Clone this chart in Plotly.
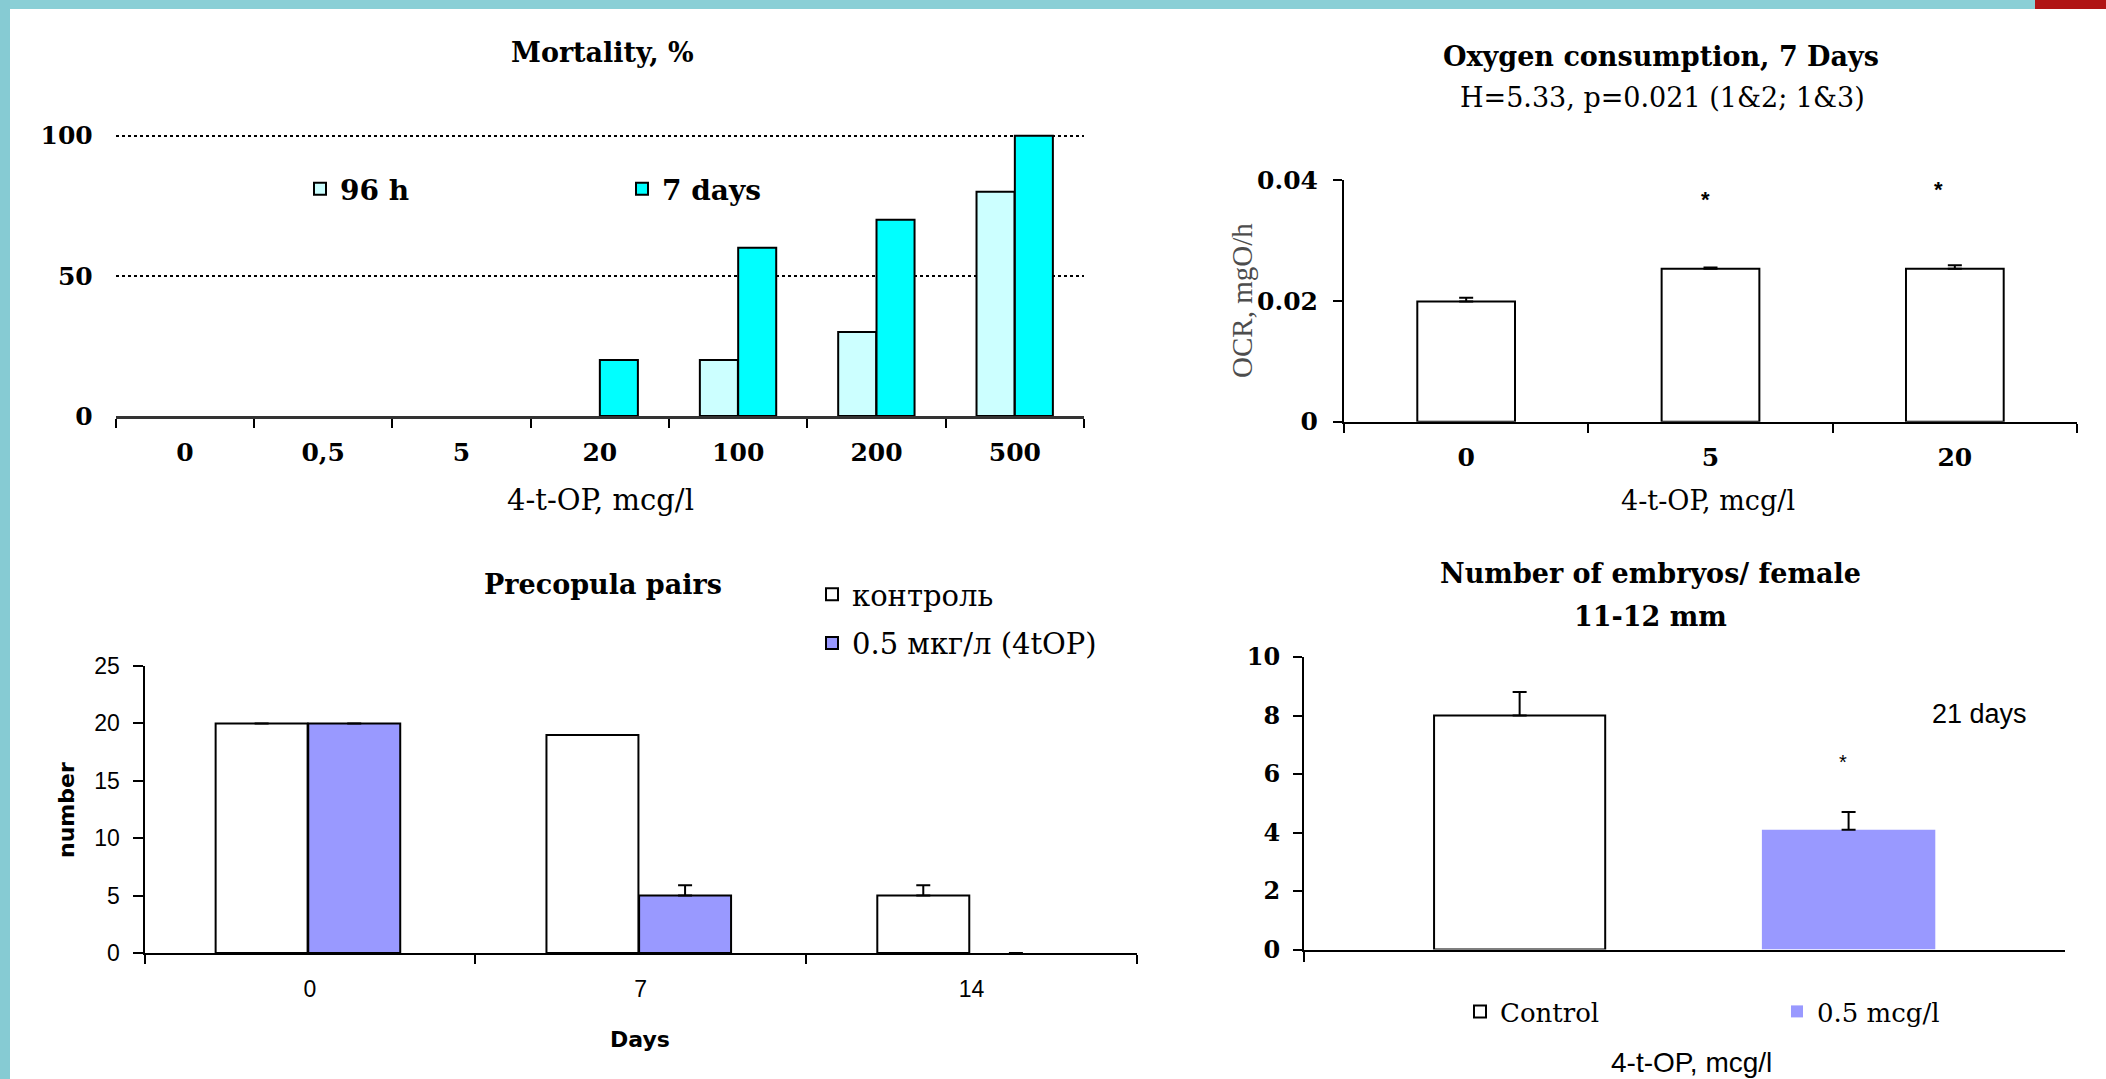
import plotly.graph_objects as go

W, H = 2106, 1079

# ---------------- data ----------------
mort_cats = ["0", "0,5", "5", "20", "100", "200", "500"]
mort_96h = [0, 0, 0, 0, 20, 30, 80]
mort_7d = [0, 0, 0, 20, 60, 70, 100]
mort_yticks = [0, 50, 100]

oxy_cats = ["0", "5", "20"]
oxy_vals = [0.0199, 0.0253, 0.0253]
oxy_err = [0.0006, 0.0002, 0.0006]
oxy_sig = ["", "*", "*"]
oxy_yticks = [0, 0.02, 0.04]
oxy_yticklabels = ["0", "0.02", "0.04"]

pre_cats = ["0", "7", "14"]
pre_ctrl = [20, 19, 5]
pre_ctrl_err = [None, None, 0.9]
pre_top = [20, 5, 0]
pre_top_err = [None, 0.9, None]
pre_yticks = [0, 5, 10, 15, 20, 25]

emb_cat = ["4-t-OP"]
emb_ctrl = [8.0]
emb_ctrl_err = [0.8]
emb_top = [4.1]
emb_top_err = [0.6]
emb_sig = ["", "*"]
emb_yticks = [0, 2, 4, 6, 8, 10]

# ---------------- helpers ----------------
def px(x):
    return x / W

def py(y):
    return 1 - y / H

SERIF = "DejaVu Serif"
TIMES = "Liberation Serif"
SANS = "Liberation Sans"
VERD = "DejaVu Sans"
BLACK = "#000000"
TITLE = 27

C_96H = "#CCFFFF"
C_7D = "#00FFFF"
C_TOP = "#9999FF"

def f(family, size, bold=False, color=BLACK):
    d = dict(family=family, size=size, color=color)
    if bold:
        d["weight"] = "bold"
    return d

def lw(vals, w=2):
    # no outline on zero-height bars (they sit on the axis line)
    return [w if v else 0 for v in vals]

def zeros(vals):
    return [0 if v is not None else None for v in vals]

fig = go.Figure()

# ---------------- Mortality ----------------
fig.add_trace(go.Bar(x=mort_cats, y=mort_96h, name="96 h", xaxis="x", yaxis="y",
                     marker=dict(color=C_96H, line=dict(color=BLACK, width=lw(mort_96h))),
                     width=0.275, offset=-0.277, showlegend=False))
fig.add_trace(go.Bar(x=mort_cats, y=mort_7d, name="7 days", xaxis="x", yaxis="y",
                     marker=dict(color=C_7D, line=dict(color=BLACK, width=lw(mort_7d))),
                     width=0.275, offset=0.0, showlegend=False))
# legend entries (same styling, no marks)
for nm, col in [("96 h", C_96H), ("7 days", C_7D)]:
    fig.add_trace(go.Bar(x=[None], y=[None], name=nm, xaxis="x", yaxis="y",
                         marker=dict(color=col, line=dict(color=BLACK, width=2)),
                         legend="legend", hoverinfo="skip"))

# ---------------- Oxygen ----------------
fig.add_trace(go.Bar(x=oxy_cats, y=oxy_vals, name="OCR", xaxis="x2", yaxis="y2",
                     marker=dict(color="#FFFFFF", line=dict(color=BLACK, width=2)),
                     width=0.4, showlegend=False,
                     error_y=dict(type="data", array=oxy_err, arrayminus=zeros(oxy_err),
                                  symmetric=False, color=BLACK, thickness=2, width=7)))

# ---------------- Precopula ----------------
fig.add_trace(go.Bar(x=pre_cats, y=pre_ctrl, name="контроль", xaxis="x3", yaxis="y3",
                     marker=dict(color="#FFFFFF", line=dict(color=BLACK, width=lw(pre_ctrl))),
                     width=0.278, offset=-0.285, legend="legend2", legendgroup="a",
                     error_y=dict(type="data", array=pre_ctrl_err, arrayminus=zeros(pre_ctrl_err),
                                  symmetric=False, color=BLACK, thickness=2, width=7)))
fig.add_trace(go.Bar(x=pre_cats, y=pre_top, name="0.5 мкг/л (4tOP)", xaxis="x3", yaxis="y3",
                     marker=dict(color=C_TOP, line=dict(color=BLACK, width=lw(pre_top))),
                     width=0.278, offset=-0.005, legend="legend2", legendgroup="b",
                     error_y=dict(type="data", array=pre_top_err, arrayminus=zeros(pre_top_err),
                                  symmetric=False, color=BLACK, thickness=2, width=7)))

# ---------------- Embryos ----------------
fig.add_trace(go.Bar(x=emb_cat, y=emb_ctrl, name="Control", xaxis="x4", yaxis="y4",
                     marker=dict(color="#FFFFFF", line=dict(color=BLACK, width=2)),
                     width=0.225, offset=-0.329, legend="legend3",
                     error_y=dict(type="data", array=emb_ctrl_err, arrayminus=[0],
                                  symmetric=False, color=BLACK, thickness=2, width=7)))
fig.add_trace(go.Bar(x=emb_cat, y=emb_top, name="0.5 mcg/l", xaxis="x4", yaxis="y4",
                     marker=dict(color=C_TOP, line=dict(width=0)),
                     width=0.228, offset=0.102, legend="legend3",
                     error_y=dict(type="data", array=emb_top_err, arrayminus=[0],
                                  symmetric=False, color=BLACK, thickness=2, width=7)))

axis_common = dict(showgrid=False, zeroline=False, linecolor=BLACK, linewidth=2,
                   tickcolor=BLACK, tickwidth=2, fixedrange=True, automargin=False,
                   layer="above traces")

mort_top = 100.6
mort_ppu = (416 - 135.7) / 100.0

layout = dict(
    width=W, height=H, margin=dict(l=0, r=0, t=0, b=0, autoexpand=False),
    paper_bgcolor="white", plot_bgcolor="rgba(0,0,0,0)",
    barmode="overlay", showlegend=True, hovermode=False,
    # Mortality axes
    xaxis=dict(axis_common, domain=[px(115.7), px(1084)], anchor="y", type="category",
               range=[-0.5, 6.5], showline=True, linecolor="#333333", linewidth=2.5,
               ticks="outside", tickson="boundaries", ticklen=9,
               tickfont=f(SERIF, 25, True), ticklabelstandoff=12),
    yaxis=dict(axis_common, domain=[py(416), py(416 - mort_top * mort_ppu)], anchor="x",
               range=[0, mort_top],
               showline=False, showgrid=True, gridcolor=BLACK, gridwidth=1.5,
               griddash="3px,3px", tickvals=mort_yticks, ticks="",
               tickfont=f(SERIF, 25, True), ticklabelstandoff=22),
    # Oxygen axes
    xaxis2=dict(axis_common, domain=[px(1344), px(2077)], anchor="y2", type="category",
                range=[-0.5, 2.5], showline=True, ticks="outside", tickson="boundaries",
                ticklen=9, tickfont=f(SERIF, 25, True), ticklabelstandoff=12),
    yaxis2=dict(axis_common, domain=[py(421.7), py(180)], anchor="x2", range=[0, 0.04],
                showline=True, ticks="outside", ticklen=9, tickvals=oxy_yticks,
                ticktext=oxy_yticklabels, tickfont=f(SERIF, 25, True), ticklabelstandoff=10),
    # Precopula axes
    xaxis3=dict(axis_common, domain=[px(144.5), px(1137)], anchor="y3", type="category",
                range=[-0.5, 2.5], showline=True, ticks="outside", tickson="boundaries",
                ticklen=9, tickfont=f(SANS, 23), ticklabelstandoff=14),
    yaxis3=dict(axis_common, domain=[py(953), py(666)], anchor="x3", range=[0, 25],
                showline=True, ticks="outside", ticklen=10, tickvals=pre_yticks,
                tickfont=f(SANS, 23), ticklabelstandoff=8),
    # Embryos axes
    xaxis4=dict(axis_common, domain=[px(1304), px(2064.6)], anchor="y4", type="category",
                range=[-0.5, 0.5], showline=True, ticks="outside", tickson="boundaries",
                ticklen=10, showticklabels=False),
    yaxis4=dict(axis_common, domain=[py(949.6), py(657)], anchor="x4", range=[0, 10],
                showline=True, ticks="outside", ticklen=9, tickvals=emb_yticks,
                tickfont=f(SERIF, 24, True), ticklabelstandoff=8),
    legend=dict(orientation="h", x=px(300), y=py(164), xanchor="left", yanchor="top",
                entrywidth=277, entrywidthmode="pixels", bgcolor="rgba(0,0,0,0)",
                font=f(SERIF, 28, True), itemclick=False, itemdoubleclick=False),
    legend2=dict(orientation="v", x=px(812), y=py(569), xanchor="left", yanchor="top",
                 bgcolor="rgba(0,0,0,0)", font=f(SERIF, 29), traceorder="grouped",
                 tracegroupgap=8, itemclick=False, itemdoubleclick=False),
    legend3=dict(orientation="h", x=px(1460), y=py(988), xanchor="left", yanchor="top",
                 entrywidth=272, entrywidthmode="pixels", bgcolor="rgba(0,0,0,0)",
                 font=f(SERIF, 26), itemclick=False, itemdoubleclick=False),
)
fig.update_layout(**layout)

# ---------------- frame decoration ----------------
shapes = [
    dict(type="rect", xref="paper", yref="paper", x0=0, x1=px(2035), y0=py(9), y1=1,
         fillcolor="#8ACFD6", line=dict(width=0), layer="below"),
    dict(type="rect", xref="paper", yref="paper", x0=px(2035), x1=1, y0=py(9), y1=1,
         fillcolor="#B01515", line=dict(width=0), layer="below"),
    dict(type="rect", xref="paper", yref="paper", x0=0, x1=px(10), y0=0, y1=1,
         fillcolor="#86CBD3", line=dict(width=0), layer="below"),
]
fig.update_layout(shapes=shapes)

# ---------------- texts ----------------
def ann(text, x, y, font, angle=0, xref="paper", yref="paper", xshift=0):
    return dict(text=text, x=x, y=y, xref=xref, yref=yref, showarrow=False,
                font=font, textangle=angle, xanchor="center", yanchor="middle",
                xshift=xshift)

anns = [
    ann("Mortality, %", px(602), py(53), f(SERIF, TITLE, True)),
    ann("4-t-OP, mcg/l", px(600), py(500), f(SERIF, 29)),
    ann("Oxygen consumption, 7 Days", px(1661), py(57), f(SERIF, TITLE, True)),
    ann("H=5.33, p=0.021 (1&2; 1&3)", px(1662), py(98), f(SERIF, 27)),
    ann("OCR, mgO/h", px(1242), py(301), f(TIMES, 29, color="#4d4d4d"), angle=-90),
    ann("4-t-OP, mcg/l", px(1708), py(500), f(SERIF, 27)),
    ann("Precopula pairs", px(603), py(584), f(SERIF, TITLE, True)),
    ann("number", px(66), py(810), f(VERD, 22, True), angle=-90),
    ann("Days", px(640), py(1039), f(VERD, 22, True)),
    ann("Number of embryos/ female", px(1650), py(573), f(SERIF, TITLE, True)),
    ann("11-12 mm", px(1650), py(616), f(SERIF, TITLE, True)),
    ann("21 days", px(1979), py(714), f(SANS, 27)),
    ann("4-t-OP, mcg/l", px(1691), py(1062), f(SANS, 28)),
]
oxy_star_y = [0, 200, 190]
oxy_star_dx = [0, -5, -16]
for i, (s, yy, dx) in enumerate(zip(oxy_sig, oxy_star_y, oxy_star_dx)):
    if s:
        anns.append(ann(s, i, py(yy), f(SANS, 22, True), xref="x2", xshift=dx))
emb_star_x = [1520, 1843]
emb_star_y = [0, 762]
for s, xx, yy in zip(emb_sig, emb_star_x, emb_star_y):
    if s:
        anns.append(ann(s, px(xx), py(yy), f(SANS, 20)))
fig.update_layout(annotations=anns)

fig.write_html("out.html")
